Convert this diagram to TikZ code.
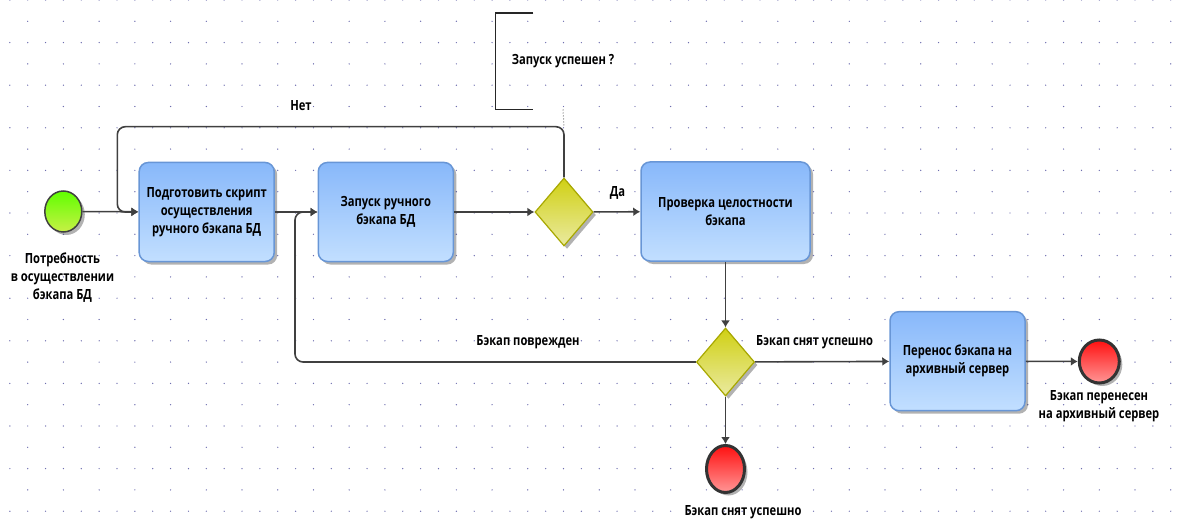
\documentclass[tikz,border=0pt]{standalone}
\usepackage{fontspec}
\setmainfont{Open Sans}[FakeStretch=0.8]
\usepackage{tikz}
\usetikzlibrary{shapes,arrows,positioning,calc,shadows,arrows.meta}

\definecolor{taskTop}{RGB}{136,184,250}
\definecolor{taskBot}{RGB}{194,223,255}
\definecolor{taskLine}{RGB}{104,150,214}
\definecolor{gwTop}{RGB}{208,208,20}
\definecolor{gwBot}{RGB}{234,234,160}
\definecolor{gwLine}{RGB}{168,168,0}
\definecolor{startTop}{RGB}{96,255,0}
\definecolor{startBot}{RGB}{200,240,70}
\definecolor{endTop}{RGB}{255,16,16}
\definecolor{endBot}{RGB}{255,150,150}
\definecolor{flowc}{RGB}{64,64,64}
\definecolor{dotc}{RGB}{110,110,175}

\begin{document}
\begin{tikzpicture}[x=1pt,y=-1pt,
    lbl/.style={font=\fontsize{14}{18}\selectfont\bfseries, align=center, inner sep=0pt},
    shade/.style={drop shadow={shadow xshift=3pt, shadow yshift=-3pt, opacity=0.3, fill=black}},
    task/.style={lbl, rectangle, rounded corners=9pt, draw=taskLine, line width=1.5pt,
        top color=taskTop, bottom color=taskBot, minimum width=135pt, minimum height=99pt, shade},
    gateway/.style={diamond, draw=gwLine, line width=1.2pt, top color=gwTop, bottom color=gwBot,
        inner sep=0pt, minimum width=58pt, minimum height=68pt, shade},
    startev/.style={ellipse, draw=flowc, line width=1.5pt, top color=startTop, bottom color=startBot,
        inner sep=0pt, shade},
    endev/.style={ellipse, draw=black!80, line width=3pt, top color=endTop, bottom color=endBot,
        inner sep=0pt, shade},
    flow/.style={draw=flowc, line width=1.6pt, -{Latex[length=7pt,width=9pt]}},
    loop/.style={flow, rounded corners=8pt}]

    \useasboundingbox (0,0) rectangle (1179,524);

    % Dot grid
    \foreach \k in {0,...,12}
        \foreach \n in {0,...,65}
            \fill[dotc] (9.85+17.86*\n, 42.6*\k) circle (0.7pt);
    \foreach \k in {0,...,11}
        \foreach \m in {0,...,32}
            \fill[dotc] (27.71+35.72*\m, 21.3+42.6*\k) circle (0.7pt);

    % Events and tasks
    \node[startev, minimum width=37pt, minimum height=41pt] (start) at (63.3,211.5) {};
    \node[lbl] (startlbl) at (62.5,278) {Потребность\\в осуществлении\\бэкапа БД};

    \node[task] (task1) at (206.7,212) {Подготовить скрипт\\осуществления\\ручного бэкапа БД};
    \node[task] (task2) at (385.8,212) {Запуск ручного\\бэкапа БД};
    \node[gateway] (gw1) at (564,212) {};
    \node[task, minimum width=169pt] (task3) at (725.5,211.5) {Проверка целостности\\бэкапа};
    \node[gateway] (gw2) at (725.5,362) {};
    \node[task] (task4) at (957.5,361.2) {Перенос бэкапа на\\архивный сервер};

    \node[endev, minimum width=40pt, minimum height=43pt] (end1) at (1099.3,361.5) {};
    \node[lbl] (end1lbl) at (1099,406) {Бэкап перенесен\\на архивный сервер};
    \node[endev, minimum width=38pt, minimum height=47pt] (end2) at (725.5,469) {};
    \node[lbl] (end2lbl) at (743,512.5) {Бэкап снят успешно};

    % Annotation
    \node[lbl, minimum width=135pt, minimum height=96pt] (note) at (563,61.3) {Запуск успешен ?};
    \draw[line width=1.5pt, black!85] ($(note.north west)+(38,0)$) -- (note.north west)
        -- (note.south west) -- ($(note.south west)+(38,0)$);
    \coordinate (noCorner) at (564,126.7);
    \coordinate (noLeft) at (117.3,126.7);
    \coordinate (backUp) at (295,212);
    \draw[dotted, line width=1pt, gray] (note.south) -- (noCorner);

    % Sequence flows
    \draw[flow] (start) -- (task1);
    \draw[flow] (task1) -- (task2);
    \draw[flow] (task2) -- (gw1);
    \draw[flow] (gw1) -- (task3);
    \draw[loop] (gw1.north) -- (noCorner) -- (noLeft) |- (task1.west);
    \draw[flow] (task3) -- (gw2);
    \draw[loop] (gw2.west) -| (backUp) -- (task2.west);
    \draw[flow] (gw2) -- (task4);
    \draw[flow] (task4) -- (end1);
    \draw[flow] (gw2) -- (end2);

    % Flow labels
    \node[lbl] (nolbl) at (301,105.7) {Нет};
    \node[lbl] (yeslbl) at (617.5,192.7) {Да};
    \node[lbl] (badlbl) at (528,341.7) {Бэкап поврежден};
    \node[lbl] (oklbl) at (814.7,341.7) {Бэкап снят успешно};
\end{tikzpicture}
\end{document}
